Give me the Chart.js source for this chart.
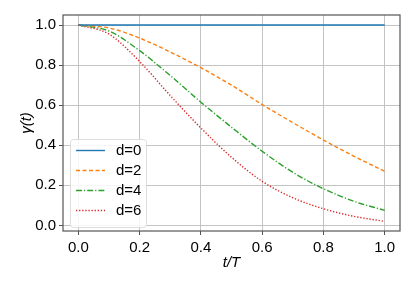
<!DOCTYPE html>
<html>
<head>
<meta charset="utf-8">
<script src="https://cdn.jsdelivr.net/npm/chart.js@4"></script>
<style>
html,body{margin:0;padding:0;background:#fff;}
#wrap{width:415px;height:286px;}
</style>
</head>
<body>
<div id="wrap"><canvas id="c" width="415" height="286"></canvas></div>
<script>
const tValues = [0, 0.1, 0.2, 0.3, 0.4, 0.5, 0.6, 0.7, 0.8, 0.9, 1.0];
const gammaD0 = [1, 1, 1, 1, 1, 1, 1, 1, 1, 1, 1];
const gammaD2 = [1.0, 0.985, 0.935, 0.865, 0.787, 0.70, 0.603, 0.513, 0.426, 0.345, 0.27];
const gammaD4 = [1.0, 0.97, 0.872, 0.748, 0.615, 0.49, 0.37, 0.265, 0.183, 0.12, 0.075];
const gammaD6 = [1.0, 0.955, 0.818, 0.648, 0.486, 0.34, 0.22, 0.138, 0.083, 0.045, 0.02];
const seriesLabels = ['d=0', 'd=2', 'd=4', 'd=6'];
const xTicks = [0, 0.2, 0.4, 0.6, 0.8, 1.0];
const yTicks = [0, 0.2, 0.4, 0.6, 0.8, 1.0];

const colors = ['#1f77b4', '#ff7f0e', '#2ca02c', '#d62728'];
const dashes = [[], [4, 2.5], [6, 2, 1.2, 2], [1.3, 1.8]];
const allSeries = [gammaD0, gammaD2, gammaD4, gammaD6];

const FONT = '"Liberation Sans", Arial, Helvetica, sans-serif';

const datasets = allSeries.map((s, i) => ({
  label: seriesLabels[i],
  data: tValues.map((t, k) => ({x: t, y: s[k]})),
  borderColor: colors[i],
  borderWidth: 1.4,
  borderDash: dashes[i],
  pointRadius: 0,
  fill: false,
  cubicInterpolationMode: 'monotone'
}));

const framePlugin = {
  id: 'frame',
  afterDraw(chart) {
    const {ctx, chartArea: a} = chart;
    ctx.save();
    ctx.strokeStyle = '#555555';
    ctx.lineWidth = 1.2;
    ctx.strokeRect(a.left, a.top, a.right - a.left, a.bottom - a.top);
    const lx = 70, ly = 139, lw = 76, lh = 88;
    ctx.fillStyle = 'rgba(255,255,255,0.85)';
    ctx.strokeStyle = '#dddddd';
    ctx.lineWidth = 1;
    ctx.beginPath();
    if (ctx.roundRect) ctx.roundRect(lx + 0.5, ly + 0.5, lw, lh, 3); else ctx.rect(lx + 0.5, ly + 0.5, lw, lh);
    ctx.fill();
    ctx.stroke();
    ctx.font = '15px ' + FONT;
    ctx.textBaseline = 'middle';
    ctx.textAlign = 'left';
    chart.data.datasets.forEach((ds, i) => {
      const y = ly + 11.5 + i * 20;
      ctx.strokeStyle = ds.borderColor;
      ctx.lineWidth = ds.borderWidth;
      ctx.setLineDash(ds.borderDash);
      ctx.beginPath();
      ctx.moveTo(76, y);
      ctx.lineTo(105, y);
      ctx.stroke();
      ctx.setLineDash([]);
      ctx.fillStyle = '#000';
      ctx.fillText(ds.label, 116, y + 0.5);
    });
    ctx.restore();
  }
};

new Chart(document.getElementById('c'), {
  type: 'line',
  data: {datasets},
  options: {
    responsive: false,
    animation: false,
    devicePixelRatio: 1,
    layout: {padding: {top: 15, right: 15, left: 18, bottom: 14}},
    plugins: {legend: {display: false}, tooltip: {enabled: false}},
    scales: {
      x: {
        type: 'linear',
        min: -0.05, max: 1.05,
        afterBuildTicks: s => { s.ticks = xTicks.map(v => ({value: v})); },
        afterFit: s => { s.height = 41; },
        grid: {color: '#c4c4c4', lineWidth: 1, tickColor: '#555', tickLength: 4, drawOnChartArea: true},
        border: {display: false},
        ticks: {color: '#000', font: {family: FONT, size: 15}, padding: 4, maxRotation: 0,
          callback: v => Number(v).toFixed(1)},
        title: {display: true, text: 't/T', color: '#000', font: {family: FONT, size: 15, style: 'italic'}, padding: {top: 0, bottom: 0}}
      },
      y: {
        type: 'linear',
        min: -0.028, max: 1.05,
        afterBuildTicks: s => { s.ticks = yTicks.map(v => ({value: v})); },
        afterFit: s => { s.width = 45; },
        grid: {color: '#c4c4c4', lineWidth: 1, tickColor: '#555', tickLength: 4},
        border: {display: false},
        ticks: {color: '#000', font: {family: FONT, size: 15}, padding: 3,
          callback: v => Number(v).toFixed(1)},
        title: {display: true, text: 'γ(t)', color: '#000', font: {family: FONT, size: 15, style: 'italic'}, padding: {top: 0, bottom: 0}}
      }
    }
  },
  plugins: [framePlugin]
});
</script>
</body>
</html>
